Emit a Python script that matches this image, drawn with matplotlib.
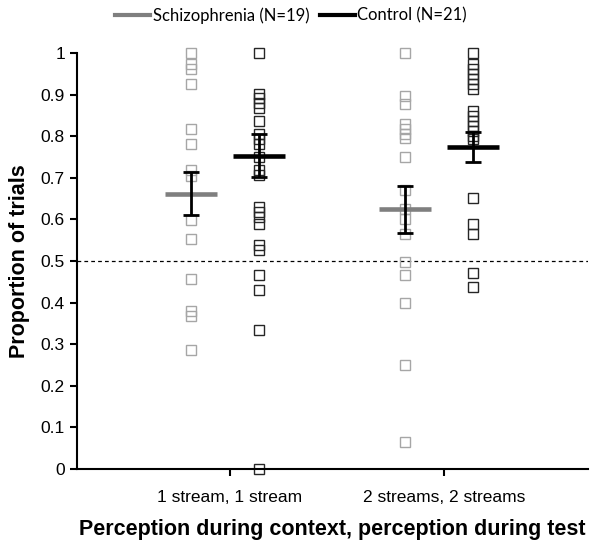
import matplotlib.pyplot as plt
from matplotlib.lines import Line2D

OUTPUT = 'out.png'

CATEGORIES = ['1 stream, 1 stream', '2 streams, 2 streams']

schizo_ss = [1.0, 0.973, 0.961, 0.925, 0.817, 0.782, 0.718, 0.704, 0.598,
             0.552, 0.456, 0.379, 0.367, 0.287]
control_ss = [1.0, 0.901, 0.893, 0.881, 0.869, 0.837, 0.805, 0.794, 0.782,
              0.75, 0.718, 0.706, 0.630, 0.618, 0.606, 0.59, 0.538, 0.526,
              0.466, 0.431, 0.333, 0.0]
schizo_tt = [1.0, 0.897, 0.877, 0.829, 0.817, 0.805, 0.796, 0.75, 0.670,
             0.626, 0.6, 0.565, 0.498, 0.466, 0.40, 0.251, 0.064]
control_tt = [1.0, 0.973, 0.961, 0.949, 0.937, 0.925, 0.913, 0.861, 0.849,
              0.837, 0.825, 0.813, 0.801, 0.794, 0.652, 0.59, 0.566, 0.472,
              0.437]

schizo_mean = [0.662, 0.624]
schizo_sem = [0.051, 0.057]
control_mean = [0.753, 0.775]
control_sem = [0.052, 0.036]

SCHIZO_COLOR = '#a6a6a6'
SCHIZO_MEAN_COLOR = '#7f7f7f'
CONTROL_COLOR = '#262626'


def main():
    fig = plt.figure(figsize=(6.0, 5.53), dpi=100)
    ax = fig.add_axes([0.128, 0.152, 0.852, 0.752])

    groups = [
        (0, -0.18, schizo_ss, SCHIZO_COLOR),
        (0, 0.135, control_ss, CONTROL_COLOR),
        (1, -0.18, schizo_tt, SCHIZO_COLOR),
        (1, 0.135, control_tt, CONTROL_COLOR),
    ]
    for idx, off, vals, color in groups:
        ax.plot([idx + 1 + off] * len(vals), vals, linestyle='none',
                marker='s', ms=7.4, mfc='none', mec=color, mew=1.0,
                clip_on=False, zorder=2)

    xs = [1, 2]
    sx = [x - 0.18 for x in xs]
    cx = [x + 0.135 for x in xs]
    ax.plot(sx, schizo_mean, linestyle='none', marker='_', ms=37, mew=3.3,
            color=SCHIZO_MEAN_COLOR, zorder=3)
    ax.plot(cx, control_mean, linestyle='none', marker='_', ms=37, mew=3.3,
            color='black', zorder=3)
    ax.errorbar(sx, schizo_mean, yerr=schizo_sem, fmt='none', ecolor='black',
                elinewidth=2, capsize=5.5, capthick=2, zorder=4)
    ax.errorbar(cx, control_mean, yerr=control_sem, fmt='none', ecolor='black',
                elinewidth=2, capsize=5.5, capthick=2, zorder=4)

    ax.axhline(0.5, color='black', lw=0.9, dashes=(3, 2.5), zorder=1)

    ax.set_xlim(0.285, 2.673)
    ax.set_ylim(0, 1)
    ax.set_xticks(xs)
    ax.set_xticklabels(CATEGORIES)
    ax.set_yticks([i / 10 for i in range(11)])
    ax.set_yticklabels(['0'] + [f'0.{i}' for i in range(1, 10)] + ['1'])
    for spine in ['top', 'right']:
        ax.spines[spine].set_visible(False)
    ax.spines['left'].set_linewidth(1.5)
    ax.spines['bottom'].set_linewidth(1.5)
    ax.tick_params(axis='both', labelsize=12.5, width=1.5, length=5,
                   colors='black')
    ax.tick_params(axis='x', pad=10)
    for lab in ax.get_xticklabels() + ax.get_yticklabels():
        lab.set_family('Liberation Sans')

    ax.set_xlabel('Perception during context, perception during test',
                  fontsize=15.5, fontweight='bold', family='Liberation Sans',
                  labelpad=10)
    ax.set_ylabel('Proportion of trials', fontsize=15.5, fontweight='bold',
                  family='Liberation Sans', labelpad=8)

    handles = [
        Line2D([], [], color=SCHIZO_MEAN_COLOR, lw=3),
        Line2D([], [], color='black', lw=3),
    ]
    fig.legend(handles, ['Schizophrenia (N=19)', 'Control (N=21)'],
               loc='center', bbox_to_anchor=(0.485, 0.972), ncol=2,
               frameon=False, handlelength=2.1, handletextpad=0.15,
               columnspacing=0.6, prop={'family': 'Lato', 'size': 12})

    fig.savefig(OUTPUT, dpi=100)


if __name__ == '__main__':
    main()
